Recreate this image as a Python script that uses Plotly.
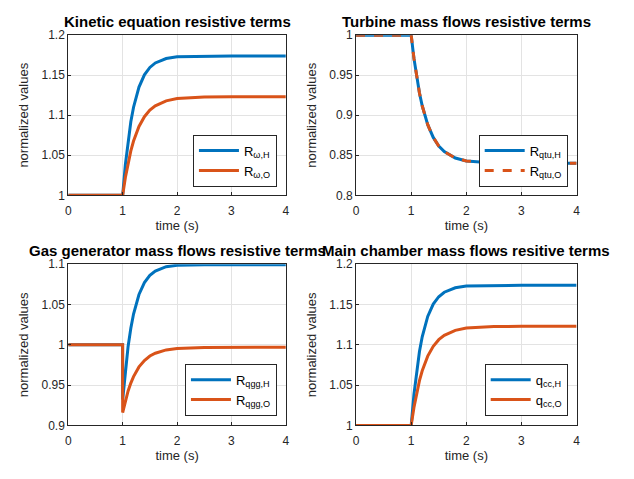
import plotly.graph_objects as go

# time samples (s)
t = [0, 0.999, 1.0, 1.05, 1.1, 1.15, 1.2, 1.3, 1.4, 1.5, 1.6, 1.8, 2.0, 2.5, 3.0, 4.0]

# Kinetic equation resistive terms
kin_H = [1, 1, 1, 1.0385, 1.0684, 1.0918, 1.110, 1.1352, 1.1505, 1.1597, 1.1653, 1.1708, 1.1729, 1.1739, 1.174, 1.174]
kin_O = [1, 1, 1, 1.0223, 1.0406, 1.0555, 1.0678, 1.0860, 1.0982, 1.1064, 1.1118, 1.1180, 1.1208, 1.1227, 1.123, 1.123]

# Turbine mass flows resistive terms
tur_H = [1, 1, 1, 0.9710, 0.9472, 0.9278, 0.9118, 0.8882, 0.8723, 0.8616, 0.8546, 0.8466, 0.8429, 0.8404, 0.840, 0.840]
tur_O = [1, 1, 1, 0.9710, 0.9472, 0.9278, 0.9118, 0.8882, 0.8723, 0.8616, 0.8546, 0.8466, 0.8429, 0.8404, 0.840, 0.840]

# Gas generator mass flows resistive terms
gg_H = [1, 1, 0.932, 0.9691, 0.998, 1.0207, 1.0382, 1.0625, 1.0773, 1.0862, 1.0916, 1.0970, 1.0988, 1.0995, 1.0995, 1.0995]
gg_O = [1, 1, 0.916, 0.9307, 0.9427, 0.9525, 0.9606, 0.9726, 0.9806, 0.9861, 0.9896, 0.9937, 0.9955, 0.9968, 0.997, 0.997]

# Main chamber mass flows resistive terms
cc_H = [1, 1, 1, 1.0385, 1.0684, 1.0918, 1.110, 1.1352, 1.1505, 1.1597, 1.1653, 1.1708, 1.1729, 1.1739, 1.174, 1.174]
cc_O = [1, 1, 1, 1.0223, 1.0406, 1.0555, 1.0678, 1.0860, 1.0982, 1.1064, 1.1118, 1.1180, 1.1208, 1.1227, 1.123, 1.123]

titles = ["Kinetic equation resistive terms", "Turbine mass flows resistive terms",
          "Gas generator mass flows resistive terms", "Main chamber mass flows resitive terms"]
names = [["R<sub>ω,H</sub>", "R<sub>ω,O</sub>"],
         ["R<sub>qtu,H</sub>", "R<sub>qtu,O</sub>"],
         ["R<sub>qgg,H</sub>", "R<sub>qgg,O</sub>"],
         ["q<sub>cc,H</sub>", "q<sub>cc,O</sub>"]]
yranges = [[1, 1.2], [0.8, 1], [0.9, 1.1], [1, 1.2]]
yticks = [[1, 1.05, 1.1, 1.15, 1.2], [0.8, 0.85, 0.9, 0.95, 1],
          [0.9, 0.95, 1, 1.05, 1.1], [1, 1.05, 1.1, 1.15, 1.2]]
xticks = [0, 1, 2, 3, 4]

W, H = 634, 479
BLUE = "#0072BD"
ORANGE = "#D95319"
FONT = "Liberation Sans, Arial, Helvetica, sans-serif"
# pixel boxes: (left, right, top, bottom)
boxes = [(66, 286, 29, 194), (357, 580, 29, 194), (66, 286, 265, 431), (357, 580, 265, 431)]
legend_pos = [(277, 185), (571, 185), (277, 421), (571, 421)]

data = [(kin_H, kin_O), (tur_H, tur_O), (gg_H, gg_O), (cc_H, cc_O)]

fig = go.Figure()
layout = dict(width=W, height=H, margin=dict(l=0, r=0, t=0, b=0),
              paper_bgcolor="white", plot_bgcolor="white",
              font=dict(family=FONT, size=12, color="#262626"),
              annotations=[])

for i in range(4):
    sfx = "" if i == 0 else str(i + 1)
    lg = "legend" if i == 0 else "legend" + str(i + 1)
    yH, yO = data[i]
    fig.add_trace(go.Scatter(x=t, y=yH, mode="lines", name=names[i][0],
                             line=dict(color=BLUE, width=3),
                             xaxis="x" + sfx, yaxis="y" + sfx, legend=lg))
    fig.add_trace(go.Scatter(x=t, y=yO, mode="lines", name=names[i][1],
                             line=dict(color=ORANGE, width=3, dash="dash" if i == 1 else "solid"),
                             xaxis="x" + sfx, yaxis="y" + sfx, legend=lg))
    l, r, tp, b = boxes[i]
    ax = dict(showline=True, mirror=True, linecolor="#262626", linewidth=1,
              showgrid=True, gridcolor="#e3e3e3", gridwidth=1, zeroline=False,
              ticks="inside", ticklen=3, tickcolor="#262626",
              tickfont=dict(size=12, color="#262626"))
    layout["xaxis" + sfx] = dict(ax, domain=[l / W, r / W], range=[0, 4],
                                 tickvals=xticks, anchor="y" + sfx, ticklabelstandoff=4,
                                 title=dict(text="time (s)", font=dict(size=13, color="#262626"), standoff=2))
    layout["yaxis" + sfx] = dict(ax, domain=[(H - b) / H, (H - tp) / H], range=yranges[i],
                                 tickvals=yticks[i], anchor="x" + sfx,
                                 title=dict(text="normalized values", font=dict(size=13, color="#262626"), standoff=9))
    lx, ly = legend_pos[i]
    layout[lg] = dict(x=lx / W, y=(H - ly) / H, xanchor="right", yanchor="bottom",
                      xref="paper", yref="paper",
                      bgcolor="white", bordercolor="#262626", borderwidth=1,
                      font=dict(size=13, color="#000000", family=FONT),
                      tracegroupgap=0, itemwidth=40)
    layout["annotations"].append(dict(text="<b>" + titles[i] + "</b>", x=(l + r) / 2 / W,
                                      y=(H - (tp - 14)) / H, xref="paper", yref="paper",
                                      showarrow=False, xanchor="center", yanchor="middle",
                                      font=dict(size=15, color="#000000", family=FONT)))

fig.update_layout(**layout)
fig.update_layout(showlegend=True)
fig.write_html("out.html", config={"displayModeBar": False},
               post_script="document.body.style.margin='0px';document.body.style.overflow='hidden';")
